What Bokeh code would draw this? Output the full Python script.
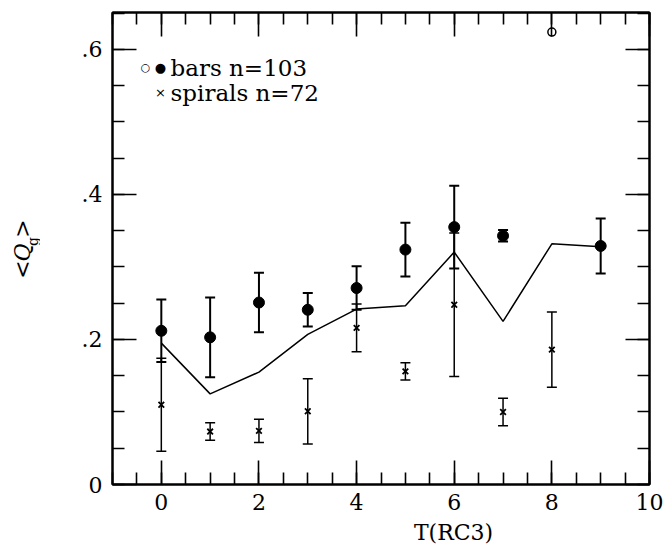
from bokeh.plotting import figure
from bokeh.models import (Range1d, LinearAxis, FixedTicker, Whisker, TeeHead,
                          ColumnDataSource, Label)
from bokeh.layouts import row, column
from bokeh.embed import file_html
from bokeh.resources import INLINE
import math

# ---- data ----
line_T = [0, 1, 2, 3, 4, 5, 6, 7, 8, 9]
line_Q = [0.195, 0.125, 0.155, 0.207, 0.242, 0.2465, 0.3205, 0.225, 0.332, 0.328]

bars_T = [0, 1, 2, 3, 4, 5, 6, 7, 9]
bars_Q = [0.212, 0.203, 0.251, 0.241, 0.271, 0.324, 0.355, 0.343, 0.329]
bars_err = [0.043, 0.055, 0.041, 0.023, 0.030, 0.037, 0.057, 0.008, 0.038]

bars_single_T = [8]
bars_single_Q = [0.624]

spir_T = [0, 1, 2, 3, 4, 5, 6, 7, 8]
spir_Q = [0.110, 0.073, 0.074, 0.101, 0.216, 0.156, 0.248, 0.100, 0.186]
spir_err = [0.064, 0.012, 0.016, 0.045, 0.033, 0.012, 0.099, 0.019, 0.052]

x_major = [0, 2, 4, 6, 8, 10]
x_minor = [i * 0.5 for i in range(-2, 21)]
y_major = [0, 0.2, 0.4, 0.6]
y_minor = [round(i * 0.05, 2) for i in range(0, 14)]
y_tick_labels = ["0", ".2", ".4", ".6"]

legend_bars = "bars n=103"
legend_spir = "spirals n=72"
x_title = "T(RC3)"
y_title_parts = ["<", "Q", "g", ">"]

FONT = "DejaVu Serif"
FS = "22px"

YL_W = 40      # width of y-title strip
XT_H = 25      # height of x-title strip
W, H = 665, 544

p = figure(width=W - YL_W, height=H - XT_H, output_backend="svg",
           toolbar_location=None,
           x_range=Range1d(-1, 10), y_range=Range1d(0, 0.651),
           min_border_left=112 - YL_W, min_border_right=16, min_border_top=12,
           min_border_bottom=H - XT_H - 484)
p.grid.visible = False
p.outline_line_color = "black"
p.outline_line_width = 2
p.background_fill_color = "white"
p.border_fill_color = "white"

def style_axis(ax, ticks, minor, show_labels):
    ax.ticker = FixedTicker(ticks=ticks, minor_ticks=minor)
    ax.major_tick_in = 24
    ax.major_tick_out = 0
    ax.minor_tick_in = 12
    ax.minor_tick_out = 0
    ax.major_tick_line_width = 1.6
    ax.minor_tick_line_width = 1.6
    ax.major_tick_line_color = "black"
    ax.minor_tick_line_color = "black"
    ax.axis_line_width = 2
    ax.axis_line_color = "black"
    ax.axis_label = None
    if show_labels:
        ax.major_label_text_font = FONT
        ax.major_label_text_font_size = FS
        ax.major_label_text_color = "black"
    else:
        ax.major_label_text_font_size = "0px"
        ax.major_label_text_color = None
        ax.major_label_standoff = 0

p.add_layout(LinearAxis(), "above")
p.add_layout(LinearAxis(), "right")

style_axis(p.below[0], x_major, x_minor, True)
style_axis(p.left[0], y_major, y_minor, True)
style_axis(p.above[0], x_major, x_minor, False)
style_axis(p.right[0], y_major, y_minor, False)
p.below[0].major_label_standoff = 9
p.left[0].major_label_standoff = 10
p.left[0].major_label_overrides = {t: s for t, s in zip(y_major, y_tick_labels)}

# mean line
p.line(line_T, line_Q, line_color="black", line_width=1.5)

# error bars
bsrc = ColumnDataSource(dict(x=bars_T, y=bars_Q,
                             lo=[q - e for q, e in zip(bars_Q, bars_err)],
                             hi=[q + e for q, e in zip(bars_Q, bars_err)]))
ssrc = ColumnDataSource(dict(x=spir_T, y=spir_Q,
                             lo=[q - e for q, e in zip(spir_Q, spir_err)],
                             hi=[q + e for q, e in zip(spir_Q, spir_err)]))
p.add_layout(Whisker(source=bsrc, base="x", upper="hi", lower="lo",
                     line_width=2, line_color="black",
                     upper_head=TeeHead(size=10, line_width=2, line_color="black"),
                     lower_head=TeeHead(size=10, line_width=2, line_color="black")))
p.add_layout(Whisker(source=ssrc, base="x", upper="hi", lower="lo",
                     line_width=1.5, line_color="black",
                     upper_head=TeeHead(size=10, line_width=1.5, line_color="black"),
                     lower_head=TeeHead(size=10, line_width=1.5, line_color="black")))

p.scatter("x", "y", source=bsrc, marker="circle", size=11,
          fill_color="black", line_color="black")
p.scatter(bars_single_T, bars_single_Q, marker="circle", size=8,
          fill_color="white", line_color="black", line_width=1.5)
p.scatter("x", "y", source=ssrc, marker="x", size=8,
          line_color="black", line_width=1.8)

def lab(fig, text, x, y, font=FONT, size=FS, angle=0, style="normal",
        align="left"):
    fig.add_layout(Label(x=x, y=y, x_units="screen", y_units="screen", text=text,
                         text_font=font, text_font_size=size, angle=angle,
                         text_font_style=style, text_align=align,
                         text_baseline="middle", text_color="black"))

# legend (screen units relative to frame)
lab(p, "\u25cb", 33, 417, font="DejaVu Sans", size="11px", align="center")
lab(p, "\u25cf", 48, 417, font="DejaVu Sans", size="13px", align="center")
lab(p, legend_bars, 58, 417, size="23px")
lab(p, "\u00d7", 48, 392, font="DejaVu Sans", size="13px", align="center")
lab(p, legend_spir, 58, 392, size="23px")

# y-title strip
yl = figure(width=YL_W, height=H, output_backend="svg", toolbar_location=None,
            x_axis_type=None, y_axis_type=None, min_border=0,
            x_range=Range1d(0, 1), y_range=Range1d(0, 1))
yl.outline_line_color = None
yl.grid.visible = False
# canvas y -> screen-from-bottom: H - y
lab(yl, y_title_parts[0], 22, H - 269, angle=math.pi / 2, align="center")
lab(yl, y_title_parts[1], 22, H - 252, angle=math.pi / 2, style="italic", align="center")
lab(yl, y_title_parts[2], 32, H - 241, angle=math.pi / 2, size="14px", align="center")
lab(yl, y_title_parts[3], 22, H - 228, angle=math.pi / 2, align="center")

# x-title strip
xt = figure(width=W - YL_W, height=XT_H, output_backend="svg", toolbar_location=None,
            x_axis_type=None, y_axis_type=None, min_border=0,
            x_range=Range1d(0, 1), y_range=Range1d(0, 1))
xt.outline_line_color = None
xt.grid.visible = False
lab(xt, x_title, 381 - YL_W, XT_H / 2, align="center")

layout = row(yl, column(p, xt, spacing=0), spacing=0)
open("out.html", "w").write(file_html(layout, INLINE))
